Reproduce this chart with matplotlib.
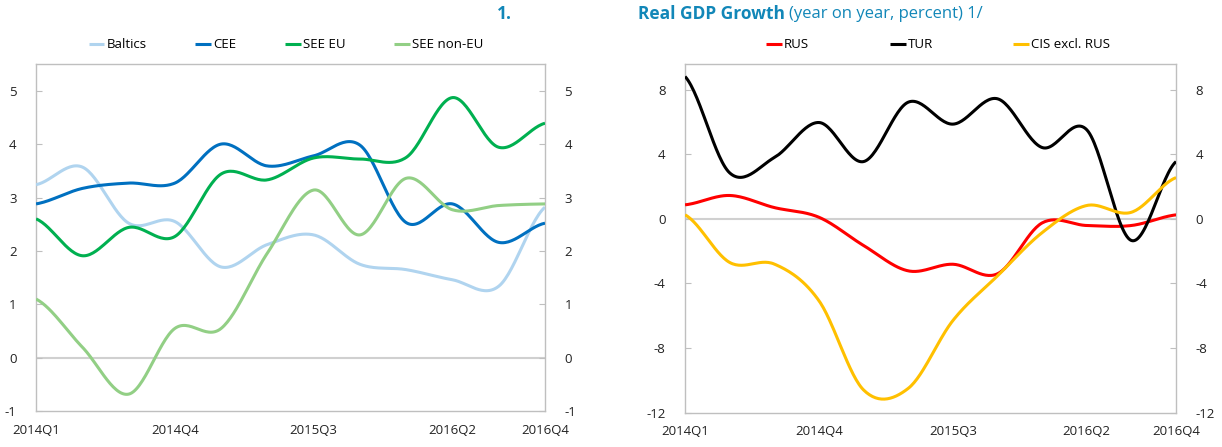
import numpy as np
import matplotlib
matplotlib.use("Agg")
import matplotlib.pyplot as plt
from matplotlib.transforms import offset_copy

quarters = ["2014Q1", "2014Q2", "2014Q3", "2014Q4", "2015Q1", "2015Q2",
            "2015Q3", "2015Q4", "2016Q1", "2016Q2", "2016Q3", "2016Q4"]
tick_idx = [0, 3, 6, 9, 11]

baltics = [3.24, 3.57, 2.52, 2.55, 1.70, 2.12, 2.30, 1.75, 1.65, 1.46, 1.34, 2.82]
cee = [2.88, 3.17, 3.27, 3.27, 4.00, 3.59, 3.78, 3.98, 2.53, 2.88, 2.16, 2.52]
see_eu = [2.60, 1.91, 2.44, 2.27, 3.44, 3.33, 3.74, 3.72, 3.75, 4.87, 3.94, 4.39]
see_noneu = [1.10, 0.20, -0.68, 0.55, 0.55, 1.96, 3.14, 2.30, 3.36, 2.77, 2.85, 2.88]

rus = [0.87, 1.45, 0.70, 0.10, -1.65, -3.22, -2.81, -3.40, -0.25, -0.41, -0.41, 0.25]
tur = [8.82, 2.85, 3.80, 5.97, 3.55, 7.23, 5.87, 7.44, 4.42, 5.52, -1.34, 3.55]
cis = [0.25, -2.70, -2.80, -5.07, -10.6, -10.5, -6.30, -3.53, -0.85, 0.83, 0.41, 2.56]


def smooth(vals, n=30):
    # Excel-style smoothed line (Catmull-Rom through the data points)
    p = np.asarray(vals, dtype=float)
    pp = np.concatenate([[p[0]], p, [p[-1]]])
    xs, ys = [], []
    for i in range(len(p) - 1):
        m0 = (pp[i + 2] - pp[i]) / 2
        m1 = (pp[i + 3] - pp[i + 1]) / 2
        t = np.linspace(0, 1, n, endpoint=(i == len(p) - 2))
        h00 = 2 * t**3 - 3 * t**2 + 1
        h10 = t**3 - 2 * t**2 + t
        h01 = -2 * t**3 + 3 * t**2
        h11 = t**3 - t**2
        xs.append(i + t)
        ys.append(h00 * p[i] + h10 * m0 + h01 * p[i + 1] + h11 * m1)
    return np.concatenate(xs), np.concatenate(ys)


plt.rcParams["font.family"] = ["Open Sans", "DejaVu Sans"]
plt.rcParams["font.size"] = 9.5

fig = plt.figure(figsize=(12.22, 4.47), dpi=100)
ax1 = fig.add_axes([0.0295, 0.080, 0.4165, 0.777])
ax2 = fig.add_axes([0.5606, 0.077, 0.4018, 0.780])

frame_col = "#BFBFBF"


def style(ax, ylim, yticks):
    ax.set_xlim(0, 11)
    ax.set_ylim(*ylim)
    ax.set_yticks(yticks)
    ax.set_yticklabels([str(v) for v in yticks])
    ax.set_xticks(tick_idx)
    ax.set_xticklabels([quarters[i] for i in tick_idx])
    ax.axhline(0, color="#D0D0D0", lw=1.5, zorder=1)
    for s in ax.spines.values():
        s.set_color(frame_col)
        s.set_linewidth(1.0)
    ax.tick_params(axis="y", direction="in", length=4, color=frame_col,
                   right=True, labelright=True, labelsize=9.5, pad=14,
                   labelcolor="#222222")
    ax.tick_params(axis="x", length=0, pad=9, labelsize=9.5, labelcolor="#222222")


style(ax1, (-1, 5.5), [-1, 0, 1, 2, 3, 4, 5])
style(ax2, (-12, 9.6), [-12, -8, -4, 0, 4, 8])

lw = 2.2
for vals, col, lab in [(baltics, "#B0D4EF", "Baltics"),
                       (cee, "#0070C0", "CEE"),
                       (see_eu, "#00B050", "SEE EU"),
                       (see_noneu, "#92CF85", "SEE non-EU")]:
    x, y = smooth(vals)
    ax1.plot(x, y, color=col, lw=lw, label=lab, solid_capstyle="butt", zorder=3)

for vals, col, lab in [(rus, "#FF0000", "RUS"),
                       (tur, "#000000", "TUR"),
                       (cis, "#FFC000", "CIS excl. RUS")]:
    x, y = smooth(vals)
    ax2.plot(x, y, color=col, lw=lw, label=lab, solid_capstyle="butt", zorder=3)

leg_kw = dict(frameon=False, handlelength=1.2, handletextpad=0.15,
              fontsize=9.5, borderaxespad=0)
ax1.legend(ncol=4, loc="center left", bbox_to_anchor=(0.093, 1.055),
           columnspacing=3.7, **leg_kw)
ax2.legend(ncol=3, loc="center left", bbox_to_anchor=(0.155, 1.055),
           columnspacing=6.1, **leg_kw)

# title in three pieces, placed one after the other
title_col = "#1287B8"
fig.text(0.407, 0.968, "1.", color=title_col, fontsize=12.5, fontweight="bold",
         va="center")
t1 = fig.text(0.522, 0.968, "Real GDP Growth", color=title_col, fontsize=12.5,
              fontweight="bold", va="center")
fig.canvas.draw()
bb = t1.get_window_extent()
fig.text(bb.x1 / fig.bbox.width + 0.003, 0.968, "(year on year, percent) 1/",
         color=title_col, fontsize=12, va="center")

fig.savefig("out.png", dpi=100)
